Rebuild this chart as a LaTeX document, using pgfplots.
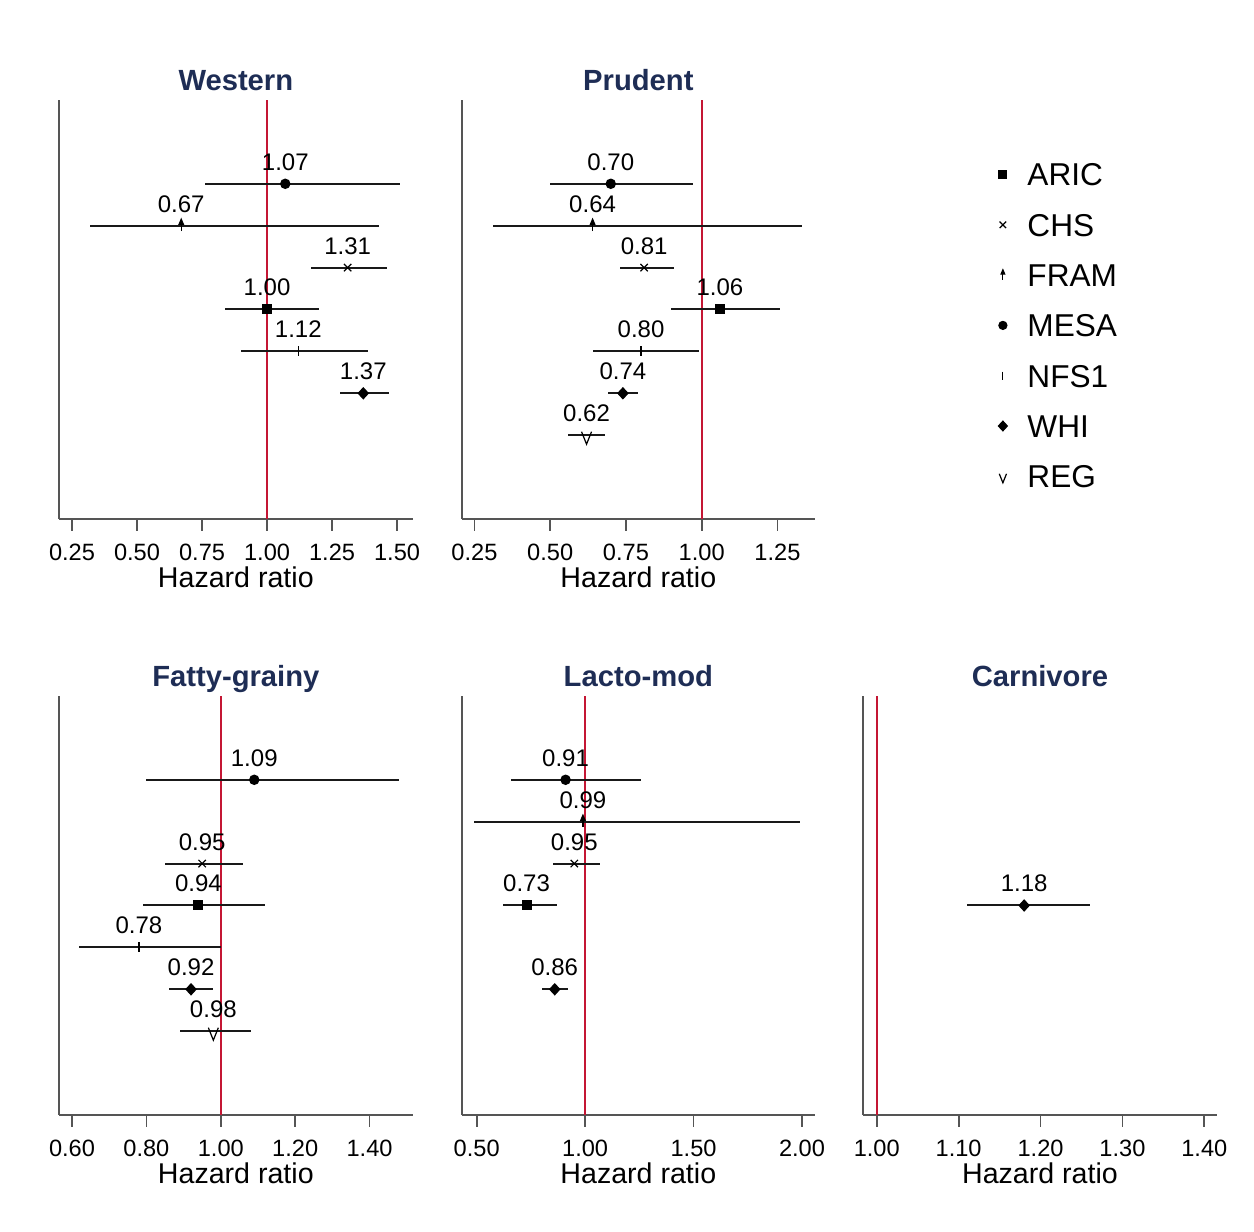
\documentclass[border=0pt]{standalone}
\usepackage{fontspec}
\setmainfont{Liberation Sans}
\usepackage{pgfplots}
\usepackage{pgfplotstable}
\pgfplotsset{compat=1.18}

\definecolor{axisgray}{RGB}{85,85,85}
\definecolor{refred}{RGB}{196,22,52}
\definecolor{titlenavy}{RGB}{30,45,85}

\newcommand\ticksize{\fontsize{11.8}{14}\selectfont}
\newcommand\valsize{\fontsize{12}{14}\selectfont}
\newcommand\labsize{\fontsize{14.3}{17}\selectfont}
\newcommand\titsize{\fontsize{14.6}{17}\selectfont\bfseries}
\newcommand\legsize{\fontsize{15.8}{18}\selectfont}

% cohort plot marks
\pgfdeclareplotmark{fram}{%
  \pgfpathmoveto{\pgfqpoint{0pt}{-\pgfplotmarksize}}%
  \pgfpathlineto{\pgfqpoint{0pt}{0.4\pgfplotmarksize}}%
  \pgfusepathqstroke
  \pgfpathmoveto{\pgfqpoint{-0.4\pgfplotmarksize}{0.25\pgfplotmarksize}}%
  \pgfpathlineto{\pgfqpoint{0pt}{1.2\pgfplotmarksize}}%
  \pgfpathlineto{\pgfqpoint{0.4\pgfplotmarksize}{0.25\pgfplotmarksize}}%
  \pgfpathclose
  \pgfusepathqfillstroke}
\pgfdeclareplotmark{reg}{%
  \pgfpathmoveto{\pgfqpoint{-\pgfplotmarksize}{0.7\pgfplotmarksize}}%
  \pgfpathlineto{\pgfqpoint{0pt}{-1.8\pgfplotmarksize}}%
  \pgfpathlineto{\pgfqpoint{\pgfplotmarksize}{0.7\pgfplotmarksize}}%
  \pgfusepathqstroke}
\pgfdeclareplotmark{dia}{%
  \pgfpathmoveto{\pgfqpoint{0pt}{\pgfplotmarksize}}%
  \pgfpathlineto{\pgfqpoint{0.92\pgfplotmarksize}{0pt}}%
  \pgfpathlineto{\pgfqpoint{0pt}{-\pgfplotmarksize}}%
  \pgfpathlineto{\pgfqpoint{-0.92\pgfplotmarksize}{0pt}}%
  \pgfpathclose
  \pgfusepathqfillstroke}

% hazard ratios with 95% CI; y = row (MESA 7, FRAM 6, CHS 5, ARIC 4, NFS1 3, WHI 2, REG 1)
\pgfplotstableread{
y hr   lo   hi   mk
7 1.07 0.76 1.51 MESA
6 0.67 0.32 1.43 FRAM
5 1.31 1.17 1.46 CHS
4 1.00 0.84 1.20 ARIC
3 1.12 0.90 1.39 NFS1
2 1.37 1.28 1.47 WHI
}\western
\pgfplotstableread{
y hr   lo   hi   mk
7 0.70 0.50 0.97 MESA
6 0.64 0.31 1.33 FRAM
5 0.81 0.73 0.91 CHS
4 1.06 0.90 1.26 ARIC
3 0.80 0.64 0.99 NFS1
2 0.74 0.69 0.79 WHI
1 0.62 0.56 0.68 REG
}\prudent
\pgfplotstableread{
y hr   lo   hi   mk
7 1.09 0.80 1.48 MESA
5 0.95 0.85 1.06 CHS
4 0.94 0.79 1.12 ARIC
3 0.78 0.62 1.00 NFS1
2 0.92 0.86 0.98 WHI
1 0.98 0.89 1.08 REG
}\fattygrainy
\pgfplotstableread{
y hr   lo   hi   mk
7 0.91 0.66 1.26 MESA
6 0.99 0.49 1.99 FRAM
5 0.95 0.85 1.07 CHS
4 0.73 0.62 0.87 ARIC
2 0.86 0.80 0.92 WHI
}\lactomod
\pgfplotstableread{
y hr   lo   hi   mk
4 1.18 1.11 1.26 WHI
}\carnivore

% distances from the estimate to the CI bounds
\newcommand\addci[1]{%
  \pgfplotstablecreatecol[create col/expr={\thisrow{hi}-\thisrow{hr}}]{ep}#1%
  \pgfplotstablecreatecol[create col/expr={\thisrow{hr}-\thisrow{lo}}]{em}#1}
\addci\western
\addci\prudent
\addci\fattygrainy
\addci\lactomod
\addci\carnivore

\pgfplotsset{
  forest/.style={
    scale only axis, anchor=south west,
    height=209.5pt,
    ymin=-1, ymax=9, ytick=\empty,
    axis x line*=bottom, axis y line*=left,
    axis line style={draw=axisgray, line width=0.9pt},
    tick align=outside, major tick length=5.85pt,
    xtick style={draw=axisgray, line width=0.9pt},
    xticklabel={\pgfmathprintnumber[fixed,fixed zerofill,precision=2,assume math mode=true]{\tick}},
    xticklabel style={font=\ticksize, anchor=base, yshift=-15pt},
    xlabel={Hazard ratio},
    xlabel style={at={(axis description cs:0.5,0)}, anchor=base, yshift=-34.5pt, font=\labsize},
    title style={at={(axis description cs:0.5,1)}, anchor=base, yshift=-1.5pt, font=\titsize, text=titlenavy},
    clip=false,
    legend image code/.code={%
      \path (-3pt,-3pt) (3pt,3pt);
      \draw[##1] plot coordinates {(0pt,0pt)};},
  },
  cohort marks/.style={
    scatter/classes={
      ARIC={mark=square*, mark size=2.2pt, black},
      CHS={mark=x, mark size=2.6pt, black},
      FRAM={mark=fram, mark size=2.7pt, black},
      MESA={mark=*, mark size=2.3pt, black},
      NFS1={mark=|, mark size=2.5pt, black},
      WHI={mark=dia, mark size=2.7pt, black},
      REG={mark=reg, mark size=2.5pt, black}}},
  refline/.style={refred, line width=1pt, forget plot},
}

% estimates with their confidence intervals, then the printed estimates above them
\newcommand\ciplot[1]{%
  \addplot[scatter, only marks, forget plot,
    scatter src=explicit symbolic, cohort marks,
    mark options={line width=0.6pt},
    error bars/.cd, x dir=both, x explicit, error mark=none,
      error bar style={line width=1pt, black!90}]
    table[x=hr, y=y, meta=mk, x error plus=ep, x error minus=em]{#1};
  \addplot[only marks, mark=none, forget plot,
    point meta=explicit,
    nodes near coords={\pgfmathprintnumber[fixed,fixed zerofill,precision=2,assume math mode=true]{\pgfplotspointmeta}},
    nodes near coords style={anchor=base, yshift=6.75pt, inner sep=0pt, text=black, font=\valsize}]
    table[x=hr, y=y, meta=hr]{#1};}

\begin{document}
\begin{tikzpicture}
\path (0,0) rectangle (627pt,616pt);

% Western
\begin{axis}[forest, at={(29.5pt,356.5pt)}, width=176.85pt,
  xmin=0.20, xmax=1.56, xtick={0.25,0.50,0.75,1.00,1.25,1.50}, title={Western}]
\addplot[refline] coordinates {(1,-1) (1,9)};
\ciplot{\western}
\end{axis}

% Prudent, carrying the cohort legend
\begin{axis}[forest, at={(230.85pt,356.5pt)}, width=176.65pt,
  xmin=0.208, xmax=1.374, xtick={0.25,0.50,0.75,1.00,1.25}, title={Prudent},
  legend cell align=left,
  legend style={draw=none, fill=none, inner sep=0pt, outer sep=0pt,
    at={(1.5137,0.8551)}, anchor=north west,
    row sep=11.35pt, column sep=9.1pt, font=\legsize,
    nodes={inner sep=0pt, text height=12.6pt, text depth=1.2pt}}]
\addplot[refline] coordinates {(1,-1) (1,9)};
\ciplot{\prudent}
\addlegendimage{only marks, mark=square*, mark size=1.9pt, black, mark options={line width=0.6pt}}
\addlegendentry{ARIC}
\addlegendimage{only marks, mark=x, mark size=2.3pt, black, mark options={line width=0.6pt}}
\addlegendentry{CHS}
\addlegendimage{only marks, mark=fram, mark size=2.2pt, black, mark options={line width=0.6pt}}
\addlegendentry{FRAM}
\addlegendimage{only marks, mark=*, mark size=2pt, black, mark options={line width=0.6pt}}
\addlegendentry{MESA}
\addlegendimage{only marks, mark=|, mark size=2pt, black, mark options={line width=0.6pt}}
\addlegendentry{NFS1}
\addlegendimage{only marks, mark=dia, mark size=2.4pt, black, mark options={line width=0.6pt}}
\addlegendentry{WHI}
\addlegendimage{only marks, mark=reg, mark size=1.8pt, black, mark options={line width=0.6pt}}
\addlegendentry{REG}
\end{axis}

% Fatty-grainy
\begin{axis}[forest, at={(29.5pt,58.5pt)}, width=176.85pt,
  xmin=0.565, xmax=1.516, xtick={0.6,0.8,1.0,1.2,1.4}, title={Fatty-grainy}]
\addplot[refline] coordinates {(1,-1) (1,9)};
\ciplot{\fattygrainy}
\end{axis}

% Lacto-mod
\begin{axis}[forest, at={(230.85pt,58.5pt)}, width=176.65pt,
  xmin=0.431, xmax=2.06, xtick={0.5,1.0,1.5,2.0}, title={Lacto-mod}]
\addplot[refline] coordinates {(1,-1) (1,9)};
\ciplot{\lactomod}
\end{axis}

% Carnivore
\begin{axis}[forest, at={(431.65pt,58.5pt)}, width=176.7pt,
  xmin=0.9836, xmax=1.4151, xtick={1.0,1.1,1.2,1.3,1.4}, title={Carnivore}]
\addplot[refline] coordinates {(1,-1) (1,9)};
\ciplot{\carnivore}
\end{axis}
\end{tikzpicture}
\end{document}
